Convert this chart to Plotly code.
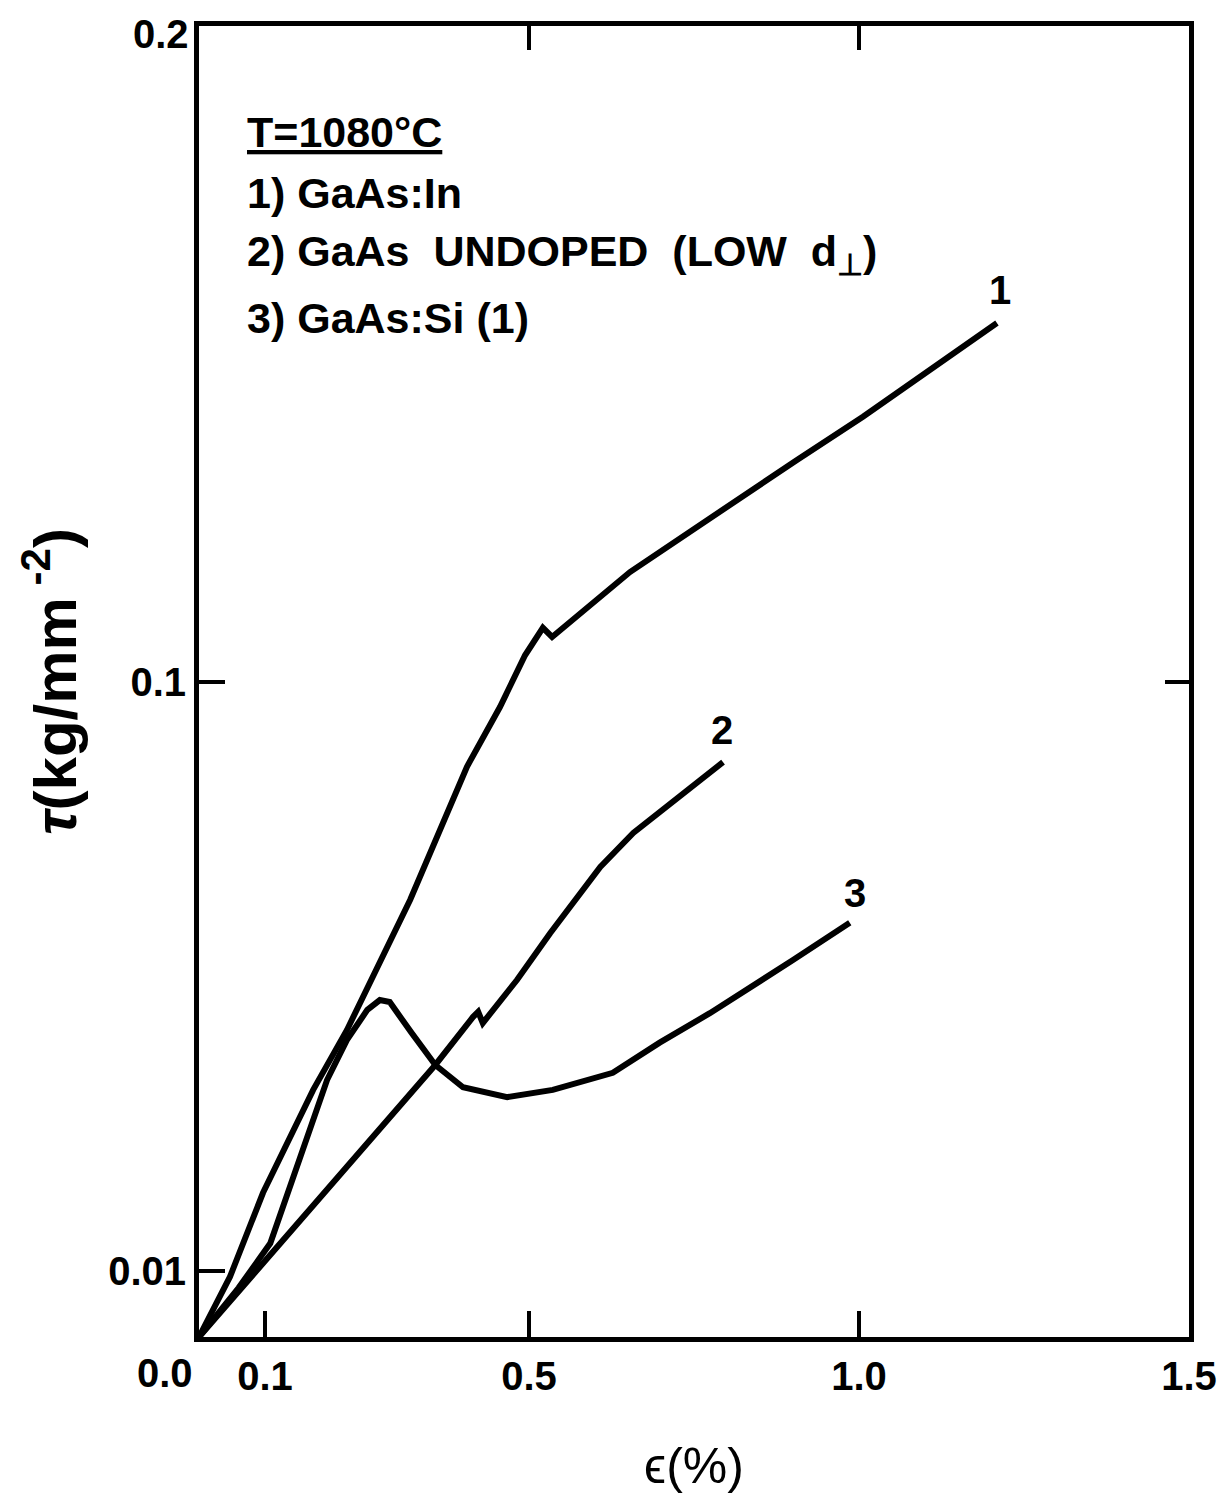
import plotly.graph_objects as go

# strain (%) and stress (kg/mm^-2)
strain_1 = [0.0, 0.047, 0.097, 0.173, 0.224, 0.320, 0.406, 0.456, 0.494, 0.521, 0.535, 0.653, 0.906, 1.006, 1.209]
stress_1 = [0.0, 0.0092, 0.0220, 0.0377, 0.0468, 0.0667, 0.0870, 0.0961, 0.1040, 0.1082, 0.1068, 0.1167, 0.1338, 0.1404, 0.1547]

strain_2 = [0.0, 0.358, 0.415, 0.423, 0.430, 0.482, 0.532, 0.608, 0.658, 0.744, 0.794]
stress_2 = [0.0, 0.0415, 0.0488, 0.0496, 0.0479, 0.0545, 0.0616, 0.0717, 0.0769, 0.0839, 0.0877]

strain_3 = [0.0, 0.060, 0.108, 0.148, 0.194, 0.224, 0.255, 0.274, 0.289, 0.322, 0.358, 0.400, 0.467, 0.536, 0.627, 0.698, 0.774, 0.900, 0.986]
stress_3 = [0.0, 0.0075, 0.0143, 0.0259, 0.0392, 0.0453, 0.0499, 0.0514, 0.0511, 0.0464, 0.0415, 0.0381, 0.0366, 0.0377, 0.0403, 0.0449, 0.0494, 0.0575, 0.0632]

curve_labels = ["1", "2", "3"]
label_x = [1.214, 0.792, 0.994]
label_y = [0.1597, 0.0926, 0.0677]

legend_lines = ["<u>T=1080°C</u>", "1)\u00a0GaAs:In",
                "2)\u00a0GaAs\u00a0\u00a0UNDOPED\u00a0\u00a0(LOW\u00a0\u00a0d<sub>⊥</sub>)",
                "3)\u00a0GaAs:Si\u00a0(1)"]
legend_y = [0.1838, 0.1745, 0.1652, 0.1555]

x_ticks = [0.1, 0.5, 1.0, 1.5]
x_tick_text = ["0.1", "0.5", "1.0", "1.5"]
y_ticks = [0.01, 0.1]
y_tick_text = ["0.01", "0.1"]
y_top_value = 0.2
y_top_text = "0.2"

FONT = "Liberation Sans"
fig = go.Figure()
for xs, ys in [(strain_1, stress_1), (strain_2, stress_2), (strain_3, stress_3)]:
    fig.add_trace(go.Scatter(x=xs, y=ys, mode="lines", line=dict(color="black", width=6),
                             showlegend=False, hoverinfo="skip"))

for t, x, y in zip(curve_labels, label_x, label_y):
    fig.add_annotation(x=x, y=y, text=t, showarrow=False, xanchor="center", yanchor="middle",
                       font=dict(family=FONT, size=40, color="black", weight="bold"))

for t, y in zip(legend_lines, legend_y):
    fig.add_annotation(x=0.07, y=y, text=t, showarrow=False, xanchor="left", yanchor="middle",
                       font=dict(family=FONT, size=43, color="black", weight="bold"))

fig.add_annotation(x=0, y=0, text="0.0", showarrow=False, xanchor="right", yanchor="top",
                   xshift=-4, yshift=-12, font=dict(family=FONT, size=40, color="black", weight="bold"))
fig.add_annotation(x=0, y=y_top_value, text=y_top_text, showarrow=False, xanchor="right", yanchor="middle",
                   xshift=-8, yshift=-8, font=dict(family=FONT, size=40, color="black", weight="bold"))

fig.update_layout(
    width=1217, height=1495,
    margin=dict(l=191, r=36, t=18, b=166, autoexpand=False),
    plot_bgcolor="white", paper_bgcolor="white",
    xaxis=dict(range=[0, 1.5], tickvals=x_ticks, ticktext=x_tick_text, ticks="inside",
               ticklen=26, tickwidth=4, tickcolor="black", showline=True, linecolor="black",
               linewidth=5, showgrid=False, zeroline=False, ticklabeloverflow="allow", automargin=False,
               tickfont=dict(family=FONT, size=40, color="black", weight="bold"),
               title=dict(text="ϵ(%)", standoff=52, font=dict(family=FONT, size=50, color="black"))),
    yaxis=dict(range=[0, 0.2], tickvals=y_ticks, ticktext=y_tick_text, ticks="inside",
               ticklen=26, tickwidth=4, tickcolor="black", showline=True, linecolor="black",
               linewidth=5, showgrid=False, zeroline=False, ticklabeloverflow="allow", automargin=False,
               tickfont=dict(family=FONT, size=40, color="black", weight="bold"),
               title=dict(text="<i>τ</i>(kg/mm<sup> -2</sup>)", standoff=14,
                          font=dict(family=FONT, size=60, color="black", weight="bold"))),
    xaxis2=dict(range=[0, 1.5], overlaying="x", side="top", tickvals=[0.5, 1.0], ticks="inside",
                ticklen=24, tickwidth=4, tickcolor="black", showticklabels=False, showline=True,
                linecolor="black", linewidth=5, showgrid=False, zeroline=False, automargin=False),
    yaxis2=dict(range=[0, 0.2], overlaying="y", side="right", tickvals=[0.1], ticks="inside",
                ticklen=24, tickwidth=4, tickcolor="black", showticklabels=False, showline=True,
                linecolor="black", linewidth=5, showgrid=False, zeroline=False, automargin=False),
)
fig.add_trace(go.Scatter(x=[None], y=[None], xaxis="x2", yaxis="y2", showlegend=False, hoverinfo="skip"))

fig.write_html("out.html")
